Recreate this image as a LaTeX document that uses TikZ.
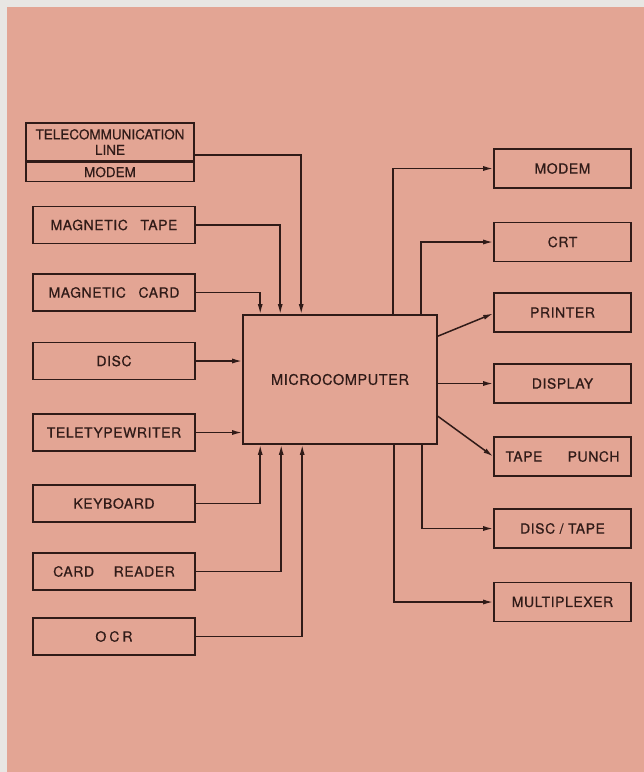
\documentclass[tikz,border=0pt]{standalone}
\usepackage{fontspec}
\setmainfont{TeX Gyre Heros}[LetterSpace=4,FakeBold=0.6]
\newfontfamily\tightfont{TeX Gyre Heros}[FakeBold=0.6]
\usetikzlibrary{arrows.meta}
\definecolor{bg}{RGB}{227,165,148}
\definecolor{frame}{RGB}{232,230,227}
\definecolor{ink}{RGB}{48,27,24}
\begin{document}
\begin{tikzpicture}[x=1pt,y=-1pt,
  box/.style={draw=ink, line width=1.6pt, text=ink, inner sep=0pt, align=center,
    font=\fontsize{14}{16}\selectfont},
  lbox/.style={box, minimum width=162pt, minimum height=37pt},
  rbox/.style={box, minimum width=137pt, minimum height=39pt},
  arr/.style={draw=ink, line width=1.5pt, -{Latex[length=10pt,width=5pt]}}]
\fill[frame] (0,0) rectangle (644,772);
\fill[bg] (7,7) rectangle (644,772);
\useasboundingbox (0,0) rectangle (644,772);

% left inputs
\node[box, minimum width=168pt, minimum height=38pt,
      font=\tightfont\fontsize{13.5}{15.5}\selectfont] (tele) at (110,142) {TELECOMMUNICATION\\LINE};
\node[box, minimum width=168pt, minimum height=19pt, anchor=north,
      font=\tightfont\fontsize{13.5}{15.5}\selectfont] (tmod) at (tele.south) {MODEM};
\node[lbox] (mtape) at (114,225) {MAGNETIC\hspace{0.9em}TAPE};
\node[lbox] (mcard) at (114,292.5) {MAGNETIC\hspace{0.9em}CARD};
\node[lbox] (disc) at (114,361) {DISC};
\node[lbox] (tty) at (114,432.5) {TELETYPEWRITER};
\node[lbox] (kbd) at (114,503.5) {KEYBOARD};
\node[lbox] (crd) at (114,571.5) {CARD\hspace{1.4em}READER};
\node[lbox] (ocr) at (114,636.5) {O\hspace{3pt}C\hspace{3pt}R};

% microcomputer
\node[box, minimum width=194pt, minimum height=129pt,
      font=\fontsize{14.5}{16}\selectfont] (mc) at (340,379.5) {MICROCOMPUTER};

% right outputs
\node[rbox] (modem) at (562.5,168.5) {MODEM};
\node[rbox] (crt) at (562.5,242) {CRT};
\node[rbox] (prn) at (562.5,312.5) {PRINTER};
\node[rbox] (dsp) at (562.5,383.5) {DISPLAY};
\node[rbox] (tp) at (562.5,456.5) {TAPE\hspace{1.8em}PUNCH};
\node[rbox] (dt) at (562.5,528.5) {DISC / TAPE};
\node[rbox] (mux) at (562.5,602) {MULTIPLEXER};

% entry/exit points on the microcomputer
\coordinate (t1) at ([xshift=18pt]mc.north west);
\coordinate (t2) at ([xshift=38pt]mc.north west);
\coordinate (t3) at ([xshift=59pt]mc.north west);
\coordinate (b1) at ([xshift=18pt]mc.south west);
\coordinate (b2) at ([xshift=39pt]mc.south west);
\coordinate (b3) at ([xshift=60pt]mc.south west);
\coordinate (r1) at ([xshift=151pt]mc.north west);
\coordinate (r2) at ([xshift=179pt]mc.north west);
\coordinate (r3) at ([xshift=152pt]mc.south west);
\coordinate (r4) at ([xshift=180pt]mc.south west);

% input connectors
\draw[arr] ([yshift=7pt]tele.south east) -| (t3);
\draw[arr] (mtape.east) -| (t2);
\draw[arr] (mcard.east) -| (t1);
\draw[arr] (disc.east) -- (disc.east -| mc.west);
\draw[arr] (tty.east) -- (tty.east -| mc.west);
\draw[arr] (kbd.east) -| (b1);
\draw[arr] (crd.east) -| (b2);
\draw[arr] (ocr.east) -| (b3);

% output connectors
\draw[arr] (r1) |- (modem.west);
\draw[arr] (r2) |- (crt.west);
\draw[arr] ([yshift=-22pt]mc.north east) -- ([yshift=-1pt]prn.west);
\draw[arr] (mc.east |- dsp.west) -- (dsp.west);
\draw[arr] ([yshift=-102pt]mc.north east) -- (tp.west);
\draw[arr] (r4) |- (dt.west);
\draw[arr] (r3) |- (mux.west);
\end{tikzpicture}
\end{document}
